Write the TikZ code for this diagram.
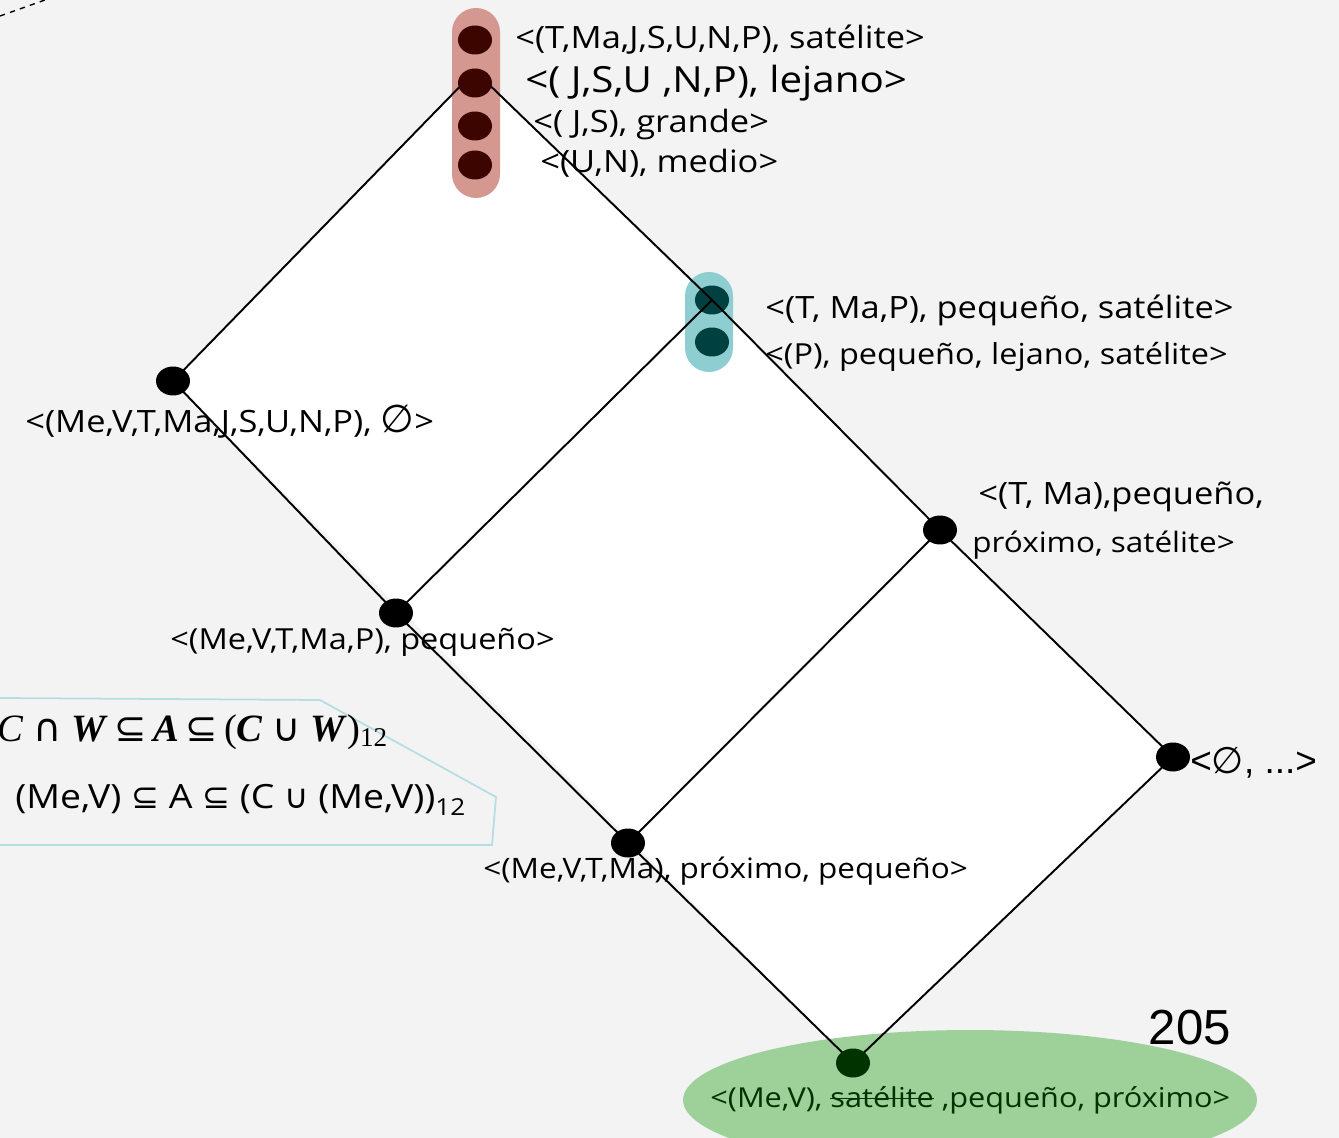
\documentclass[tikz,border=0pt]{standalone}
\usepackage{fontspec}
\setmainfont{Open Sans}
\newfontfamily\hand[FakeStretch=1.12]{Open Sans}
\newfontfamily\symfont{DejaVu Sans}
\newfontfamily\arial{Liberation Sans}
\newfontfamily\serif{Liberation Serif}
\usetikzlibrary{shapes.geometric}

\definecolor{bgray}{RGB}{243,243,243}
\definecolor{pillred}{RGB}{212,152,145}
\definecolor{dotred}{RGB}{61,5,0}
\definecolor{pillteal}{RGB}{142,206,208}
\definecolor{dotteal}{RGB}{0,64,64}
\definecolor{topgreen}{RGB}{158,208,154}
\definecolor{dotgreen}{RGB}{0,51,0}
\definecolor{boxblue}{RGB}{180,222,226}

% struck-out word
\newcommand\strike[1]{\leavevmode\setbox0\hbox{#1}\rlap{\rule[0.55ex]{\wd0}{0.9pt}}\box0\relax}

\tikzset{
  dot/.style={ellipse, fill=black, inner sep=0pt, minimum width=0.68cm, minimum height=0.58cm},
  lbl/.style={font=\hand\fontsize{#1}{20}\selectfont, inner sep=0pt, anchor=west},
  lbl/.default=17.5,
}

\begin{document}
\begin{tikzpicture}[x=0.02cm,y=-0.02cm]
\useasboundingbox (0,0) rectangle (1339,1138);
\clip (0,0) rectangle (1339,1138);
\fill[bgray] (0,0) rectangle (1339,1138);
\fill[white] (475,70) -- (173,381) -- (853,1063) -- (1173,757) -- cycle;

% groups of equal concepts
\fill[pillred, rounded corners=0.48cm] (452,8) rectangle (500,198);
\fill[pillteal, rounded corners=0.48cm] (685,272) rectangle (733,372);
\fill[topgreen] (970,1100) ellipse (5.74cm and 1.4cm);

\draw[dashed, thick] (0,16) -- (45,0);
\draw[boxblue, line width=1pt] (0,698) -- (320,700) -- (496,797) -- (492,845) -- (0,845);

% labels
\node[lbl] at (515,40) {<(T,Ma,J,S,U,N,P), satélite>};
\node[lbl=20.5] at (525,83) {<( J,S,U ,N,P), lejano>};
\node[lbl] at (533,125) {<( J,S), grande>};
\node[lbl] at (540,163) {<(U,N), medio>};
\node[lbl] at (765,310) {<(T, Ma,P), pequeño, satélite>};
\node[lbl=16.5] at (765,357) {<(P),  pequeño, lejano, satélite>};
\node[lbl] at (25,422) {<(Me,V,T,Ma,J,S,U,N,P), {\symfont\fontsize{22}{24}\selectfont ∅}>};
\node[lbl] at (978,497) {<(T, Ma),pequeño,};
\node[lbl=16] at (972,545) {próximo, satélite>};
\node[lbl=16.5] at (170,642) {<(Me,V,T,Ma,P), pequeño>};
\node[lbl, font=\arial\fontsize{21}{23}\selectfont] at (1190,763) {<{\symfont ∅}, ...>};
\node[lbl=16] at (483,871) {<(Me,V,T,Ma), próximo, pequeño>};
\node[lbl=15.6, text=dotgreen] at (710,1100) {<(Me,V), \strike{satélite} ,pequeño, próximo>};
\node[font=\arial\fontsize{28}{30}\selectfont] at (1190,1028) {205};

\node[lbl, font=\serif\fontsize{22}{24}\selectfont] at (-3,732)
  {\textit{C} {\symfont ∩} \textbf{\textit{W}}\,{\symfont ⊆}\,\textbf{\textit{A}}\,{\symfont ⊆}\,(\textbf{\textit{C}} {\symfont ∪} \textbf{\textit{W}})\textsubscript{12}};
\node[lbl=19] at (15,800) {(Me,V) {\symfont ⊆} A {\symfont ⊆} (C {\symfont ∪} (Me,V))\textsubscript{12}};

% lattice points
\coordinate (apex) at (475,71);
\coordinate (all) at (173,381);
\coordinate (tmap) at (712,300);
\coordinate (tma) at (940,530);
\coordinate (empty) at (1173,757);
\coordinate (mevtmap) at (396,613);
\coordinate (mevtma) at (628,843);
\coordinate (mev) at (853,1063);

\node[dot, fill=dotteal] at (tmap) {};
\node[dot, fill=dotteal] at (712,342) {};

\draw[line width=1.1pt] (apex) -- (all) -- (mevtmap) -- (mevtma) -- (mev) -- (empty) -- (tma) -- (tmap) -- (apex);
\draw[line width=1.1pt] (tmap) -- (mevtmap);
\draw[line width=1.1pt] (tma) -- (mevtma);

\foreach \y in {40,83,126,165}
  \node[dot, fill=dotred] at (475,\y) {};
\foreach \p in {all,tma,empty,mevtmap,mevtma}
  \node[dot] at (\p) {};
\node[dot, fill=dotgreen] at (mev) {};
\end{tikzpicture}
\end{document}
